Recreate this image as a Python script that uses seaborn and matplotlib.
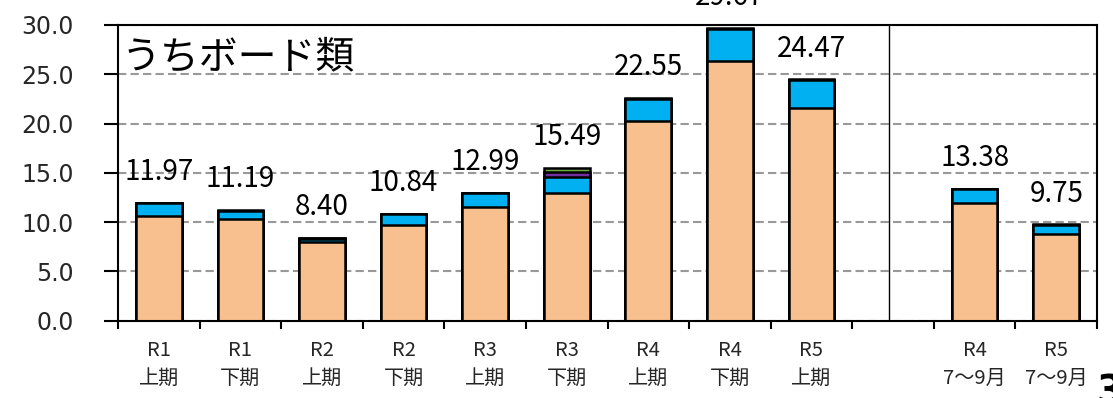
import numpy as np
import pandas as pd
import matplotlib
matplotlib.use("Agg")
import matplotlib.pyplot as plt
import seaborn as sns

# Periods (the empty slot separates half-year totals from the quarterly pair)
periods = ["R1\n上期", "R1\n下期", "R2\n上期", "R2\n下期", "R3\n上期", "R3\n下期",
           "R4\n上期", "R4\n下期", "R5\n上期", "R4\n7～9月", "R5\n7～9月"]
slot_order = periods[:9] + [" "] + periods[9:]

# Stacked components (bottom to top)
orange_part = [10.57, 10.30, 7.94, 9.66, 11.52, 12.93, 20.30, 26.37, 21.58, 11.95, 8.81]
blue_part = [1.33, 0.82, 0.30, 1.12, 1.41, 1.62, 2.18, 3.23, 2.82, 1.36, 0.88]
purple_part = [0.04, 0.04, 0.10, 0.03, 0.03, 0.50, 0.04, 0.04, 0.04, 0.04, 0.03]
green_part = [0.03, 0.03, 0.06, 0.03, 0.03, 0.44, 0.03, 0.03, 0.03, 0.03, 0.03]

# Totals printed above each bar
totals = [11.97, 11.19, 8.40, 10.84, 12.99, 15.49, 22.55, 29.67, 24.47, 13.38, 9.75]

y_ticks = [0, 5, 10, 15, 20, 25, 30]

sns.set_theme(style="white")
plt.rcParams["font.family"] = ["Noto Sans CJK JP", "DejaVu Sans"]

df = pd.DataFrame({"period": periods})
df["c1"] = np.array(orange_part)
df["c2"] = df["c1"] + np.array(blue_part)
df["c3"] = df["c2"] + np.array(purple_part)
df["c4"] = df["c3"] + np.array(green_part)

fig = plt.figure(figsize=(11.13, 3.98), dpi=100)
ax = fig.add_axes([118 / 1113, 1 - 320.5 / 398, (1097 - 118) / 1113, (320.5 - 25) / 398])

layers = [("c4", "#70AD47"), ("c3", "#7030A0"), ("c2", "#00B0F0"), ("c1", "#F9C08F")]
for col, colr in layers:
    sns.barplot(data=df, x="period", y=col, order=slot_order, color=colr,
                edgecolor="black", linewidth=1.8, width=0.56, errorbar=None,
                saturation=1, ax=ax)

# Value labels above bars
pos = {name: i for i, name in enumerate(slot_order)}
for name, tot in zip(periods, totals):
    ax.annotate(f"{tot:.2f}", xy=(pos[name], tot), xytext=(0, 16.5),
                textcoords="offset points", ha="center", va="baseline",
                fontsize=20, color="black", annotation_clip=False,
                family=["Noto Sans CJK JP", "DejaVu Sans"])

ax.set_xlim(-0.5, len(slot_order) - 0.5)
ax.set_ylim(0, 30)
ax.set_yticks(y_ticks)
ax.set_yticklabels([f"{v:.1f}" for v in y_ticks], fontsize=17,
                   family=["DejaVu Sans"])
ax.set_xlabel("")
ax.set_ylabel("")

# Category labels at centres, tick marks at slot boundaries
ax.set_xticks(range(len(slot_order)))
ax.set_xticklabels(slot_order, fontsize=14.5, linespacing=1.45)
ax.set_xticks(np.arange(-0.5, len(slot_order)), minor=True)
ax.tick_params(axis="x", which="major", length=0, pad=14)
ax.tick_params(axis="x", which="minor", length=6, width=1.5, direction="out",
               color="black", bottom=True)
ax.tick_params(axis="y", length=10, width=1.5, direction="out", color="black",
               left=True, pad=22)

ax.yaxis.grid(True, linestyle=(0, (4, 2)), color="#999999", linewidth=1.5)
ax.set_axisbelow(True)
for s in ax.spines.values():
    s.set_color("black")
    s.set_linewidth(1.5)

# Separator between half-year and quarterly blocks
ax.axvline(8.95, color="black", linewidth=1.0, zorder=1)

ax.text(0.004, 0.955, "うちボード類", transform=ax.transAxes, ha="left", va="top",
        fontsize=28, color="black")

# Page number at the lower right corner
fig.text(1096 / 1113, 1 - 374 / 398, "3", ha="left", va="top", fontsize=28,
         fontweight="bold", color="black", family=["DejaVu Sans"])

fig.savefig("out.png", dpi=100)
